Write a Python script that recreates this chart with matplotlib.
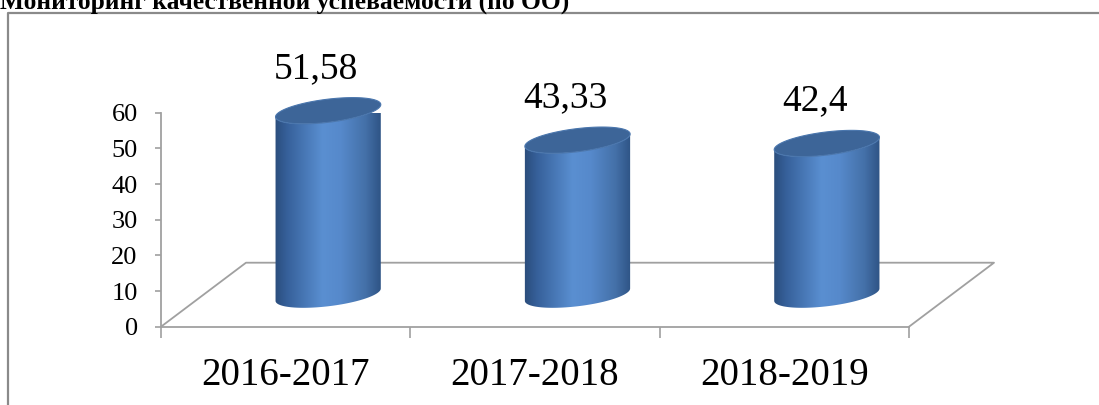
import numpy as np
import matplotlib
matplotlib.use("Agg")
import matplotlib.pyplot as plt
from matplotlib.patches import Polygon
from matplotlib.lines import Line2D
from matplotlib.colors import LinearSegmentedColormap

# ---- data ----
categories = ["2016-2017", "2017-2018", "2018-2019"]
values = [51.58, 43.33, 42.4]
value_labels = ["51,58", "43,33", "42,4"]
y_ticks = [0, 10, 20, 30, 40, 50, 60]
title = "Мониторинг качественной успеваемости (по ОО)"

plt.rcParams["font.family"] = ["Liberation Serif", "DejaVu Serif"]

W, H, DPI = 1099, 405, 100
fig = plt.figure(figsize=(W / DPI, H / DPI), dpi=DPI)

ax_left, ax_right = 161, 909
ax_top, ax_bottom = 112.7, 326.7
ax = fig.add_axes([ax_left / W, 1 - ax_bottom / H,
                   (ax_right - ax_left) / W, (ax_bottom - ax_top) / H])
n = len(categories)
ax.set_xlim(-0.5, n - 0.5)
ax.set_ylim(0, 60)
ax.autoscale(False)
ax.patch.set_visible(False)

gray = "#a0a0a0"
for s in ["top", "right"]:
    ax.spines[s].set_visible(False)
for s in ["left", "bottom"]:
    ax.spines[s].set_color(gray)
    ax.spines[s].set_linewidth(1.3)

ax.set_yticks(y_ticks)
ax.tick_params(axis="y", direction="out", length=4.3, width=1.2, color=gray,
               labelsize=19, pad=12.5)
ax.set_xticks(np.arange(-0.5, n, 1.0))
ax.set_xticklabels([])
ax.tick_params(axis="x", which="major", direction="out", length=8, width=1.2,
               color=gray)
ax.set_xticks(np.arange(n), categories, minor=True)
ax.tick_params(axis="x", which="minor", length=0, labelsize=28, pad=22)

# pixel scale of the data axes
T = ax.transData
o = T.transform((0, 0))
sx = T.transform((1, 0))[0] - o[0]
sy = T.transform((0, 1))[1] - o[1]

# floor (3D base)
fdx, fdy = 85 / sx, 64 / sy
ax.plot([-0.5, -0.5 + fdx, n - 0.5 + fdx, n - 0.5], [0, fdy, fdy, 0],
        color=gray, lw=1.3, clip_on=False, zorder=1)

# cylinders
a_px, b_px, theta = 53.0, 11.5, np.deg2rad(7)
t0 = np.arctan(-(b_px / a_px) * np.tan(theta))


def ellipse_pts(cx, cy, t):
    ex = a_px * np.cos(t) * np.cos(theta) - b_px * np.sin(t) * np.sin(theta)
    ey = a_px * np.cos(t) * np.sin(theta) + b_px * np.sin(t) * np.cos(theta)
    return np.column_stack([cx + ex / sx, cy + ey / sy])


cmap = LinearSegmentedColormap.from_list(
    "cyl",
    [(0.0, "#2a4c7a"), (0.12, "#36609a"), (0.45, "#5a8fd1"),
     (0.62, "#5689cb"), (0.85, "#4470a8"), (1.0, "#2d5283")])
grad = cmap(np.linspace(0, 1, 256))[None, :, :3]

for i, (v, lbl) in enumerate(zip(values, value_labels)):
    cx = i + fdx / 2
    base = fdy / 2
    top = base + v
    body = np.vstack([ellipse_pts(cx, top, np.linspace(t0, t0 - np.pi, 90)),
                      ellipse_pts(cx, base, np.linspace(t0 - np.pi, t0, 90))])
    clip = Polygon(body, closed=True, facecolor="none", edgecolor="none",
                   transform=ax.transData)
    ax.add_patch(clip)
    clip.set_clip_on(False)
    im = ax.imshow(grad, extent=[cx - (a_px + 1) / sx, cx + (a_px + 1) / sx,
                                 base - 20 / sy, top + 20 / sy],
                   aspect="auto", interpolation="bilinear", zorder=3)
    im.set_clip_path(clip)
    im.set_clip_box(None)
    cap = Polygon(ellipse_pts(cx, top, np.linspace(0, 2 * np.pi, 180)),
                  closed=True, facecolor="#3d6598", edgecolor="#4a76ad",
                  lw=0.8, zorder=4, clip_on=False)
    ax.add_patch(cap)
    ax.annotate(lbl, xy=(cx, top), xytext=(-12, 33), textcoords="offset pixels",
                ha="center", va="baseline", fontsize=27, annotation_clip=False)

ax.set_xlim(-0.5, n - 0.5)
ax.set_ylim(0, 60)

# frame and title
fig.add_artist(Line2D([7.5 / W, 7.5 / W, 1.0], [0.0, 1 - 13 / H, 1 - 13 / H],
                      transform=fig.transFigure, color="#8a8a8a", lw=1.6))
fig.text(0, 1 - 9.5 / H, title, fontsize=18.4, fontweight="bold",
         ha="left", va="baseline")

fig.savefig("out.png", dpi=DPI)
